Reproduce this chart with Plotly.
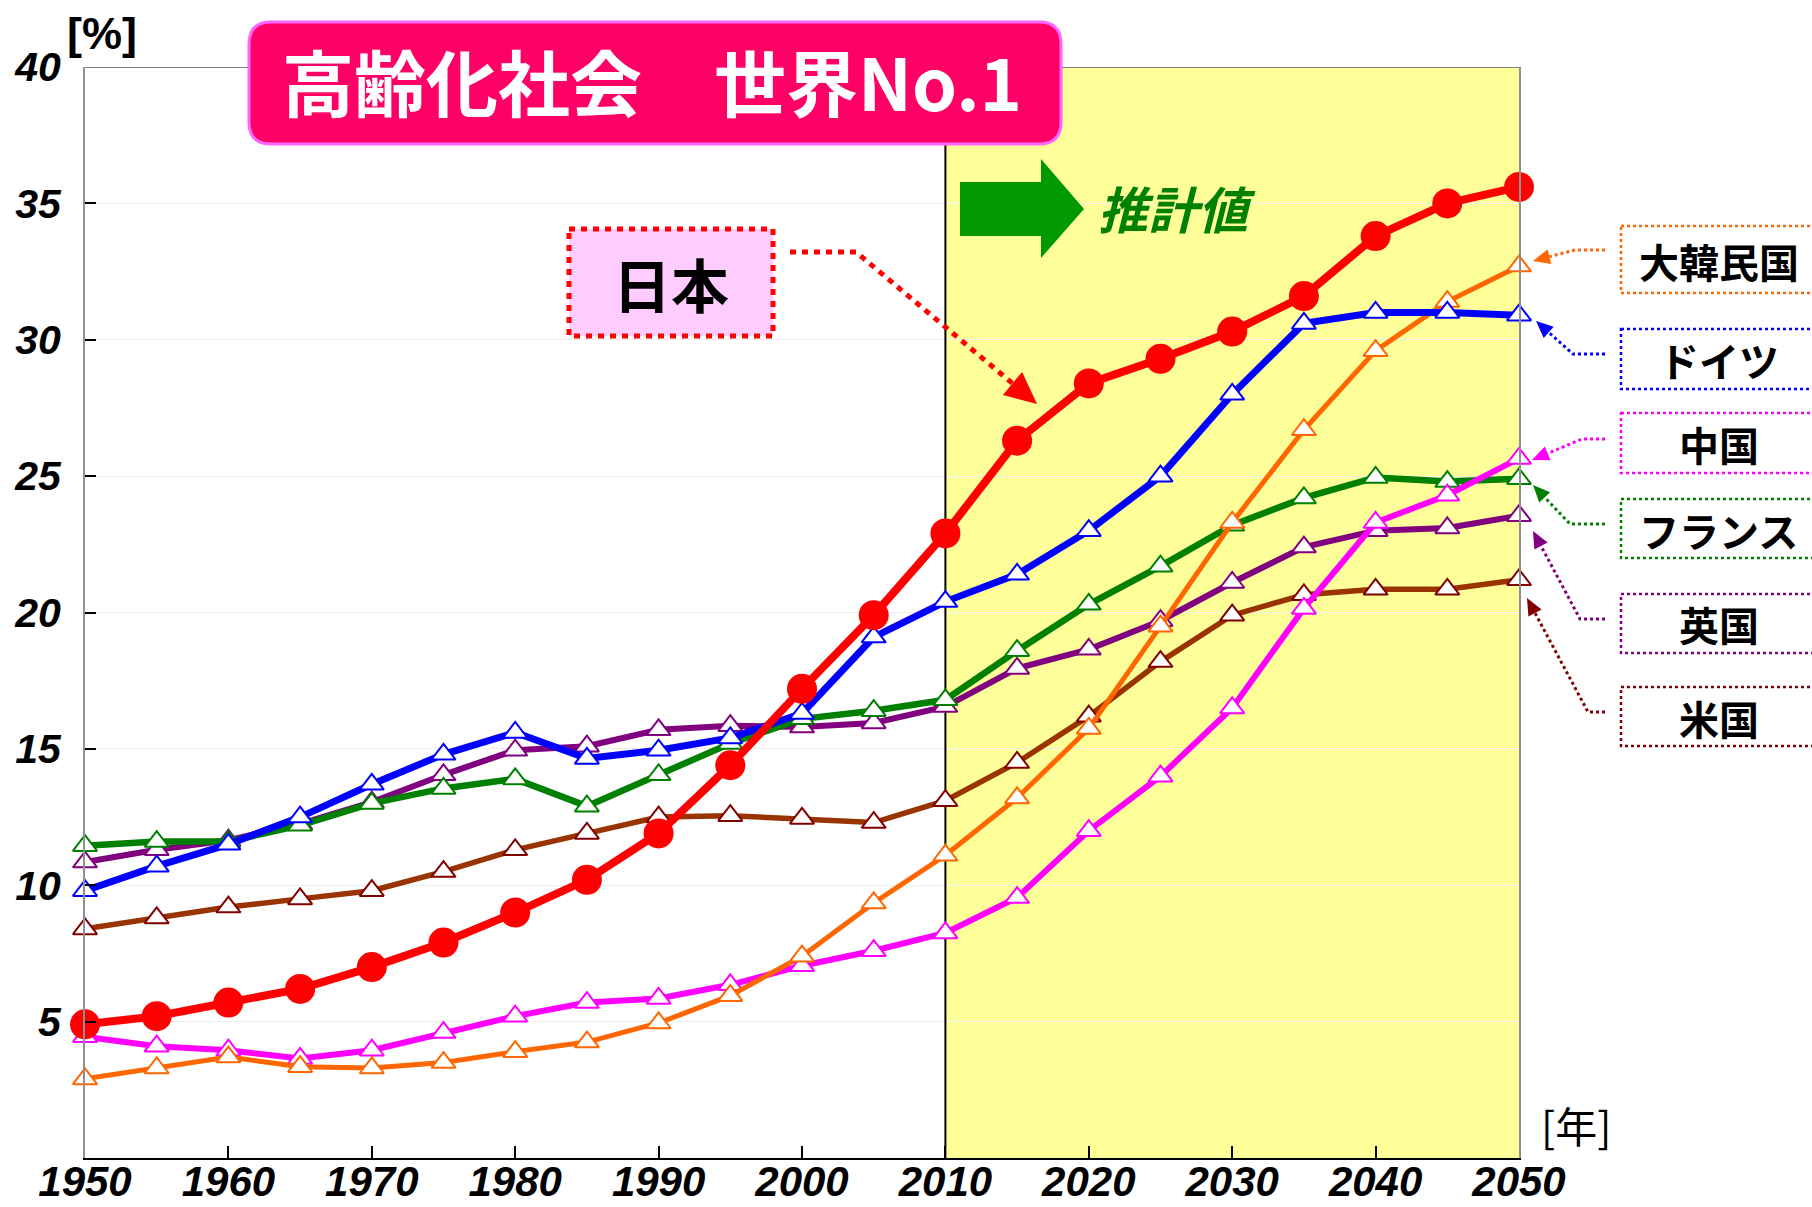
import plotly.graph_objects as go

# ---------------- data ----------------
years = list(range(1950, 2051, 5))
x_tick_vals = [1950, 1960, 1970, 1980, 1990, 2000, 2010, 2020, 2030, 2040, 2050]
y_tick_vals = [5, 10, 15, 20, 25, 30, 35, 40]

japan = [4.9, 5.2, 5.7, 6.2, 7.0, 7.9, 9.0, 10.2, 11.9, 14.4, 17.2,
         19.9, 22.9, 26.3, 28.4, 29.3, 30.3, 31.6, 33.8, 35.0, 35.6]
korea = [2.9, 3.3, 3.7, 3.35, 3.3, 3.5, 3.9, 4.25, 4.95, 5.95, 7.4,
         9.35, 11.1, 13.2, 15.75, 19.5, 23.3, 26.7, 29.6, 31.4, 32.7]
germany = [9.8, 10.7, 11.5, 12.5, 13.7, 14.8, 15.6, 14.65, 14.95, 15.4, 16.3,
           19.1, 20.4, 21.4, 23.0, 25.0, 28.0, 30.6, 31.0, 31.0, 30.9]
france = [11.45, 11.6, 11.6, 12.2, 13.0, 13.55, 13.9, 12.9, 14.05, 15.2, 16.1,
          16.4, 16.8, 18.6, 20.3, 21.7, 23.2, 24.2, 24.95, 24.8, 24.9]
uk = [10.85, 11.3, 11.65, 12.25, 13.05, 14.05, 14.95, 15.1, 15.7, 15.85, 15.8,
      15.95, 16.55, 17.95, 18.65, 19.7, 21.1, 22.4, 23.0, 23.1, 23.55]
usa = [8.4, 8.8, 9.2, 9.5, 9.8, 10.5, 11.3, 11.9, 12.5, 12.55, 12.45,
       12.3, 13.1, 14.5, 16.2, 18.2, 19.9, 20.65, 20.85, 20.85, 21.2]
china = [4.45, 4.1, 3.95, 3.65, 3.95, 4.6, 5.2, 5.7, 5.85, 6.35, 7.05,
         7.6, 8.25, 9.55, 12.0, 14.0, 16.5, 20.15, 23.3, 24.3, 25.65]

title_text = "高齢化社会　世界No.1"
japan_label = "日本"
estimate_label = "推計値"

# ---------------- layout geometry (pixels) ----------------
W, H = 1812, 1207
L, R, T, B = 85, 1519, 67, 1158   # plot area in page pixels


def PX(x):
    return (x - L) / (R - L)


def PY(y):
    return (B - y) / (B - T)


JP = "Noto Sans CJK JP"
LAT = "Liberation Sans, Arial, sans-serif"

fig = go.Figure()

tri_series = [
    ("米国", usa, "#993300", "#800000", 5.5),
    ("英国", uk, "#800080", "#800080", 6),
    ("フランス", france, "#008000", "#008000", 6.5),
    ("中国", china, "#FF00FF", "#FF00FF", 6),
    ("大韓民国", korea, "#FF6600", "#FF6600", 5),
    ("ドイツ", germany, "#0000FF", "#0000FF", 7),
]
for name, vals, lc, mc, lw in tri_series:
    fig.add_trace(go.Scatter(
        x=years, y=vals, name=name, mode="lines+markers",
        line=dict(color=lc, width=lw),
        marker=dict(symbol="triangle-up", size=21, color="white",
                    line=dict(color=mc, width=2)),
        cliponaxis=False, showlegend=False,
    ))

fig.add_trace(go.Scatter(
    x=years, y=japan, name="日本", mode="lines+markers",
    line=dict(color="#FF0000", width=8),
    marker=dict(symbol="circle", size=30, color="#FF0000"),
    cliponaxis=False, showlegend=False,
))

shapes = []
# projection zone
shapes.append(dict(type="rect", xref="x", yref="y", x0=2010, x1=2050, y0=0, y1=40,
                   fillcolor="#FFFF99", line=dict(width=0), layer="below"))
shapes.append(dict(type="line", xref="x", yref="y", x0=2010, x1=2010, y0=0, y1=40,
                   line=dict(color="black", width=2), layer="between"))
shapes.append(dict(type="line", xref="x", yref="y", x0=1950, x1=2050, y0=40, y1=40,
                   line=dict(color="#808080", width=2), layer="between"))


def rounded_rect(x0, y0, x1, y1, r):
    p = [
        f"M{PX(x0 + r)},{PY(y0)}",
        f"L{PX(x1 - r)},{PY(y0)}",
        f"Q{PX(x1)},{PY(y0)} {PX(x1)},{PY(y0 + r)}",
        f"L{PX(x1)},{PY(y1 - r)}",
        f"Q{PX(x1)},{PY(y1)} {PX(x1 - r)},{PY(y1)}",
        f"L{PX(x0 + r)},{PY(y1)}",
        f"Q{PX(x0)},{PY(y1)} {PX(x0)},{PY(y1 - r)}",
        f"L{PX(x0)},{PY(y0 + r)}",
        f"Q{PX(x0)},{PY(y0)} {PX(x0 + r)},{PY(y0)}",
        "Z",
    ]
    return " ".join(p)


def poly(points, close=False):
    s = "M" + " L".join(f"{PX(x)},{PY(y)}" for x, y in points)
    return s + (" Z" if close else "")


def dotted_arrow(points, color, width, head_len, head_w, dash):
    tip = points[-1]
    prev = points[-2]
    dx, dy = tip[0] - prev[0], tip[1] - prev[1]
    n = (dx * dx + dy * dy) ** 0.5
    ux, uy = dx / n, dy / n
    bx, by = tip[0] - head_len * ux, tip[1] - head_len * uy
    px_, py_ = -uy, ux
    line_pts = points[:-1] + [(bx, by)]
    out = [dict(type="path", xref="paper", yref="paper", path=poly(line_pts),
                line=dict(color=color, width=width, dash=dash), layer="above")]
    head = [(tip[0], tip[1]),
            (bx + px_ * head_w / 2, by + py_ * head_w / 2),
            (bx - px_ * head_w / 2, by - py_ * head_w / 2)]
    out.append(dict(type="path", xref="paper", yref="paper", path=poly(head, True),
                    fillcolor=color, line=dict(width=0), layer="above"))
    return out


# title box
shapes.append(dict(type="path", xref="paper", yref="paper",
                   path=rounded_rect(249, 22, 1061, 144, 22),
                   fillcolor="#FF0066", line=dict(color="#FF66FF", width=3), layer="above"))
# Japan label box
shapes.append(dict(type="rect", xref="paper", yref="paper",
                   x0=PX(569), x1=PX(773), y0=PY(229), y1=PY(336),
                   fillcolor="#FFCCFF", line=dict(color="#FF0000", width=5, dash="6px,6px"),
                   layer="above"))
shapes += dotted_arrow([(790, 252), (856, 252), (1037, 404)], "#FF0000", 5, 32, 30, "6px,6px")

# green arrow
shapes.append(dict(type="path", xref="paper", yref="paper",
                   path=poly([(960, 182), (1041, 182), (1041, 159), (1084, 209),
                              (1041, 258), (1041, 236), (960, 236)], True),
                   fillcolor="#009900", line=dict(width=0), layer="above"))

# right side label boxes and arrows
box_rows = [
    ("大韓民国", "#FF6600", 226, 293, [(1605, 250), (1575, 250), (1533, 261)]),
    ("ドイツ", "#0000FF", 329, 389, [(1605, 354), (1573, 354), (1536, 321)]),
    ("中国", "#FF00FF", 413, 473, [(1605, 439), (1582, 439), (1532, 460)]),
    ("フランス", "#008000", 499, 558, [(1605, 524), (1570, 524), (1533, 485)]),
    ("英国", "#800080", 594, 653, [(1605, 619), (1580, 619), (1533, 531)]),
    ("米国", "#800000", 687, 746, [(1605, 712), (1588, 712), (1527, 598)]),
]
annotations = []
for label, col, y0, y1, pts in box_rows:
    shapes.append(dict(type="rect", xref="paper", yref="paper",
                       x0=PX(1621), x1=PX(1835), y0=PY(y0), y1=PY(y1),
                       fillcolor="rgba(0,0,0,0)", line=dict(color=col, width=2.5, dash="3px,3px"),
                       layer="above"))
    shapes += dotted_arrow(pts, col, 3, 17, 15, "3px,3px")
    annotations.append(dict(xref="paper", yref="paper", x=PX(1719), y=PY((y0 + y1) / 2 + 1),
                            text=label, showarrow=False, xanchor="center", yanchor="middle",
                            font=dict(family=JP, size=40, color="black", weight="bold")))

annotations += [
    dict(xref="paper", yref="paper", x=PX(652), y=PY(80), text=title_text,
         showarrow=False, xanchor="center", yanchor="middle",
         font=dict(family=JP, size=72, color="white", weight="bold")),
    dict(xref="paper", yref="paper", x=PX(671), y=PY(283), text=japan_label,
         showarrow=False, xanchor="center", yanchor="middle",
         font=dict(family=JP, size=58, color="black", weight="bold")),
    dict(xref="paper", yref="paper", x=PX(1177), y=PY(207), text=estimate_label,
         showarrow=False, xanchor="center", yanchor="middle",
         font=dict(family=JP, size=50, color="#008000", weight="bold", style="italic")),
    dict(xref="paper", yref="paper", x=PX(102), y=PY(33), text="[%]",
         showarrow=False, xanchor="center", yanchor="middle",
         font=dict(family=LAT, size=45, color="black", weight="bold")),
    dict(xref="paper", yref="paper", x=PX(1576), y=PY(1124), text="[年]",
         showarrow=False, xanchor="center", yanchor="middle",
         font=dict(family=JP, size=42, color="black")),
]

fig.update_layout(
    width=W, height=H,
    margin=dict(l=L, r=W - R, t=T, b=H - B, pad=0),
    paper_bgcolor="white", plot_bgcolor="white",
    shapes=shapes, annotations=annotations, showlegend=False,
    xaxis=dict(range=[1950, 2050], tickvals=x_tick_vals, ticktext=[str(v) for v in x_tick_vals],
               ticks="inside", ticklen=12, tickwidth=1.5, tickcolor="black",
               showline=True, linecolor="black", linewidth=2, showgrid=False, zeroline=False,
               tickfont=dict(family=LAT, size=42, color="black", weight="bold", style="italic"),
               automargin=False, ticklabelstandoff=-14),
    yaxis=dict(range=[0, 40], tickvals=y_tick_vals,
               ticks="inside", ticklen=11, tickwidth=2, tickcolor="black",
               showline=True, linecolor="#909090", linewidth=2, mirror=True,
               showgrid=True, gridcolor="#EEEEEE", gridwidth=1, zeroline=False,
               tickfont=dict(family=LAT, size=41, color="black", weight="bold", style="italic"),
               automargin=False, ticklabelstandoff=14),
)

fig.write_html("out.html", config={"displayModeBar": False},
               post_script="document.body.style.margin='0';document.body.style.overflow='hidden';")
